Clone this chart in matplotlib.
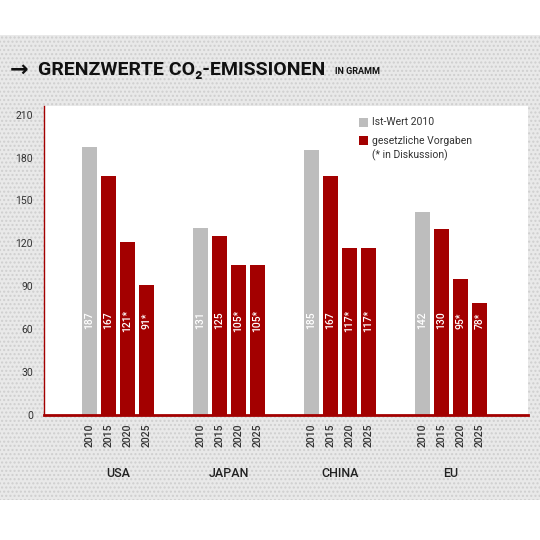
import matplotlib.pyplot as plt
from matplotlib.patches import Rectangle
import numpy as np

plt.rcParams['font.family'] = ['Roboto', 'DejaVu Sans']

# data
regions = ["USA", "JAPAN", "CHINA", "EU"]
years = ["2010", "2015", "2020", "2025"]
values = {
    "USA":   [187, 167, 121, 91],
    "JAPAN": [131, 125, 105, 105],
    "CHINA": [185, 167, 117, 117],
    "EU":    [142, 130, 95, 78],
}
labels = {
    "USA":   ["187", "167", "121*", "91*"],
    "JAPAN": ["131", "125", "105*", "105*"],
    "CHINA": ["185", "167", "117*", "117*"],
    "EU":    ["142", "130", "95*", "78*"],
}
yticks = [0, 30, 60, 90, 120, 150, 180, 210]

GRAY = "#bdbdbd"
RED = "#a30000"
TXT = "#333333"

fig = plt.figure(figsize=(5.4, 5.4), dpi=100)
fig.patch.set_facecolor("white")

# textured grey band behind the chart
bg = Rectangle((0, 1 - 500 / 540), 1, (500 - 35) / 540, transform=fig.transFigure,
               facecolor="#e9e9e9", edgecolor="#cfcfcf", hatch="....", linewidth=0, zorder=-5)
fig.patches.append(bg)

# axes: x 44..528, y 106..415 (pixels)
ax = fig.add_axes([44 / 540, 1 - 415 / 540, (528 - 44) / 540, (415 - 106) / 540])
ax.set_zorder(2)
ax.set_facecolor("white")

gstep = 5.85
for i, r in enumerate(regions):
    for j, v in enumerate(values[r]):
        x = i * gstep + j
        ax.bar(x, v, width=0.79, color=GRAY if j == 0 else RED, zorder=2)
        ax.text(x, 66, labels[r][j], rotation=90, ha="center", va="center",
                color="white", fontsize=7.5, fontweight="medium", zorder=3)
        ax.text(x, -6, years[j], rotation=90, ha="center", va="top",
                color=TXT, fontsize=7.5, fontweight="medium", clip_on=False)
    ax.text(i * gstep + 1.5, -41, r, ha="center", va="center", color="#222222",
            fontsize=9, fontweight="medium", clip_on=False)

ax.set_xlim(-2.4, 23.1)
ax.set_ylim(0, 216)
ax.set_yticks(yticks)
ax.set_yticklabels([str(t) for t in yticks], fontsize=7.5, color=TXT)
ax.set_xticks([])
ax.tick_params(axis="y", length=0, pad=8)
for s in ["top", "right"]:
    ax.spines[s].set_visible(False)
ax.spines["left"].set_color(RED)
ax.spines["left"].set_linewidth(1.0)
ax.spines["bottom"].set_color(RED)
ax.spines["bottom"].set_linewidth(2)

# legend drawn by hand
fig.patches.append(Rectangle((359 / 540, 1 - 127 / 540), 9 / 540, 9 / 540, zorder=5,
                             transform=fig.transFigure, facecolor=GRAY, edgecolor="none"))
fig.patches.append(Rectangle((359 / 540, 1 - 145 / 540), 9 / 540, 9 / 540, zorder=5,
                             transform=fig.transFigure, facecolor=RED, edgecolor="none"))
fig.text(372 / 540, 1 - 122 / 540, "Ist-Wert 2010", fontsize=7.5, color=TXT, va="center", zorder=5)
fig.text(372 / 540, 1 - 141 / 540, "gesetzliche Vorgaben", fontsize=7.5, color=TXT, va="center", zorder=5)
fig.text(372 / 540, 1 - 155 / 540, "(* in Diskussion)", fontsize=7.5, color=TXT, va="center", zorder=5)

# title
fig.text(10 / 540, 1 - 70 / 540, "\u2192", fontsize=16, color="#111111", va="center", fontweight="bold",
         family=["DejaVu Sans"])
fig.text(38 / 540, 1 - 70 / 540, "GRENZWERTE CO\u2082-EMISSIONEN", fontsize=14, fontweight="bold",
         color="#111111", va="center")
fig.text(335 / 540, 1 - 71 / 540, "IN GRAMM", fontsize=6.5, fontweight="bold", color="#111111", va="center")

fig.savefig("out.png", dpi=100)
